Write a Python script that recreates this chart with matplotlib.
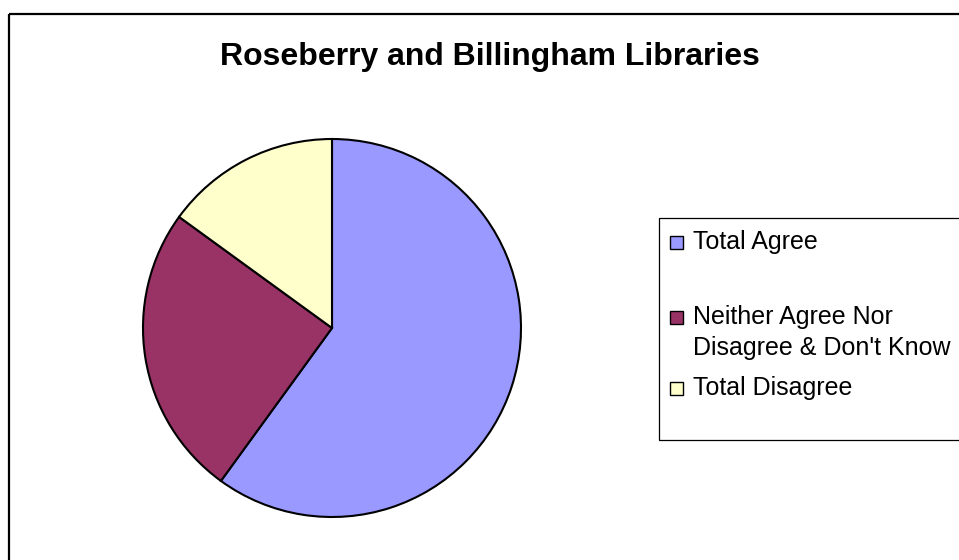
import matplotlib
matplotlib.use("Agg")
import matplotlib.pyplot as plt
from matplotlib.patches import Rectangle

plt.rcParams['font.family'] = ['Liberation Sans', 'DejaVu Sans']

title = "Roseberry and Billingham Libraries"
labels = ["Total Agree", "Neither Agree Nor\nDisagree & Don't Know", "Total Disagree"]
values = [60, 25, 15]
colors = ["#9999FF", "#993366", "#FFFFCC"]

W, H = 959, 560
fig = plt.figure(figsize=(W / 100, H / 100), dpi=100)

# pie axes: centre (332, 328) px, radius 189 px
cx, cy, r = 332, 328, 189
ax = fig.add_axes([(cx - r) / W, (H - cy - r) / H, 2 * r / W, 2 * r / H])
ax.pie(values, colors=colors, startangle=90, counterclock=False, radius=1,
       wedgeprops=dict(edgecolor="black", linewidth=1.5))
ax.set_xlim(-1, 1)
ax.set_ylim(-1, 1)
ax.set_aspect("equal")
for w in ax.patches:
    w.set_clip_on(False)

# overlay in pixel coordinates for frame, title and legend
ov = fig.add_axes([0, 0, 1, 1], zorder=-1)
ov.set_xlim(0, W)
ov.set_ylim(H, 0)
ov.axis("off")

ov.add_patch(Rectangle((9, 14), 1000, 600, fill=False, edgecolor="black", linewidth=1.6))
ov.text(490, 57, title, ha="center", va="center", fontsize=23, fontweight="bold")

# legend box
ov2 = fig.add_axes([0, 0, 1, 1], zorder=2)
ov2.set_xlim(0, W)
ov2.set_ylim(H, 0)
ov2.axis("off")
ov2.add_patch(Rectangle((659, 218), 400, 222, fill=False, edgecolor="black", linewidth=0.9))

entry_y = [242, 317, 388]
line_gap = 31
for lab, col, y in zip(labels, colors, entry_y):
    ov2.add_patch(Rectangle((670, y - 6.5), 13, 13, facecolor=col, edgecolor="black", linewidth=1.0))
    for i, line in enumerate(lab.split("\n")):
        ov2.text(693, y + i * line_gap, line, ha="left", va="center", fontsize=18)

fig.savefig("out.png", dpi=100)
